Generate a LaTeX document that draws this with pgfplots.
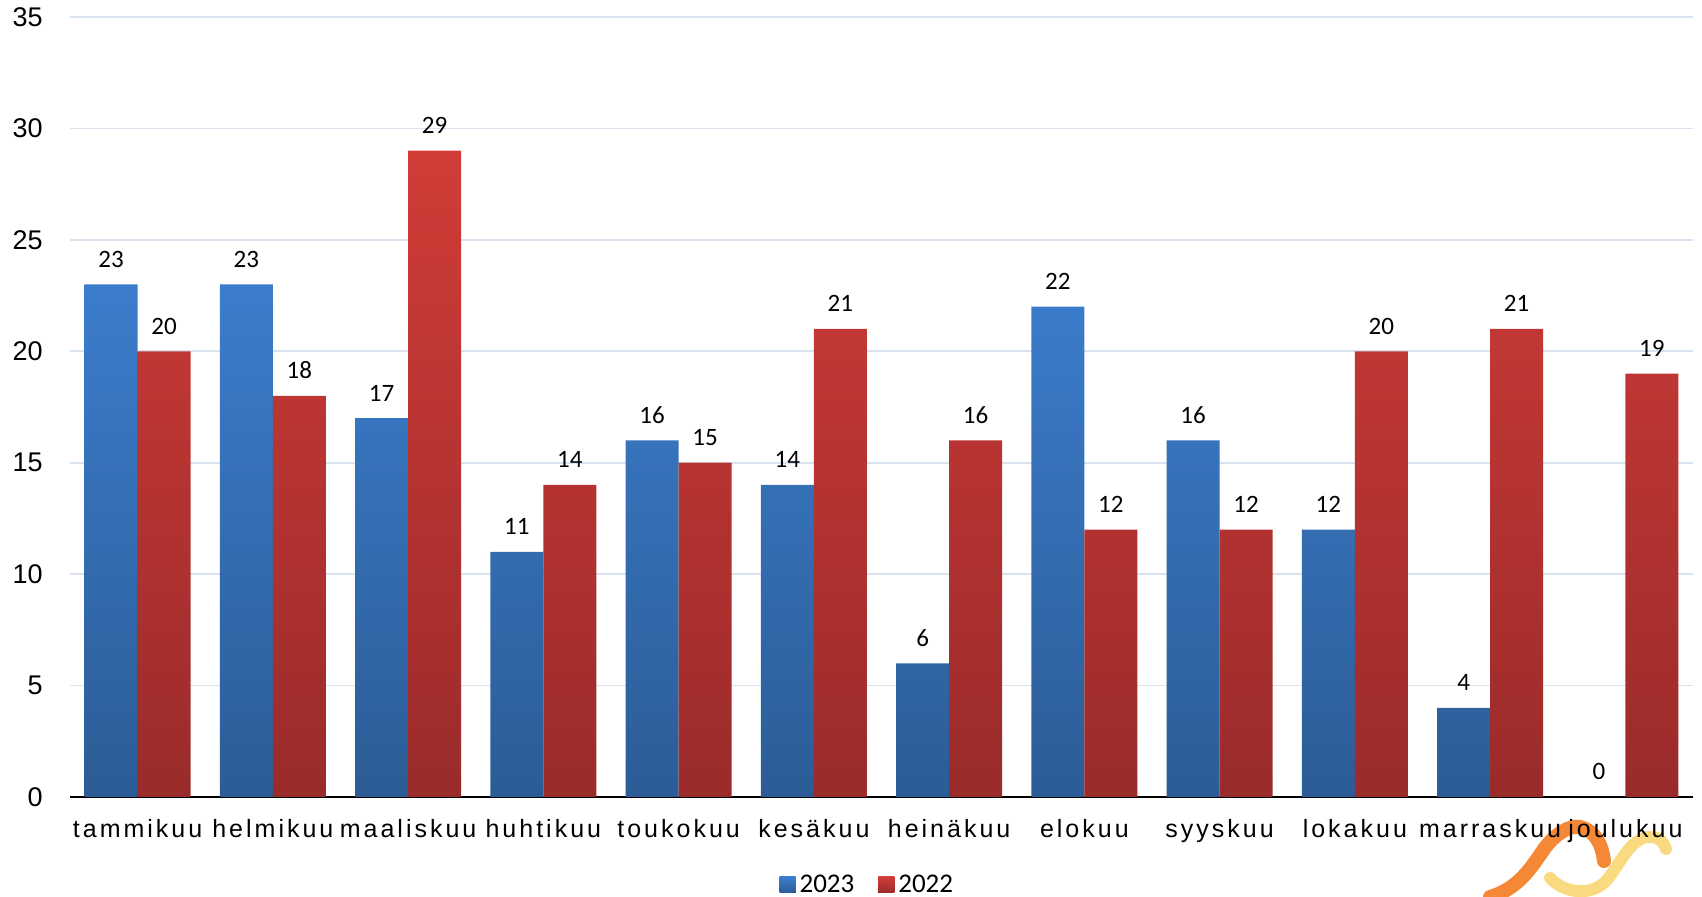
\documentclass[border=0pt]{standalone}
\usepackage{fontspec}
\setmainfont{Liberation Sans}
\newfontfamily\carl{Carlito}
\newfontfamily\xlab{Liberation Sans}[LetterSpace=12]
\usepackage{pgfplots}
\pgfplotsset{compat=1.18}
\definecolor{bluetop}{HTML}{3B7DCC}
\definecolor{bluebot}{HTML}{2C5C96}
\definecolor{redtop}{HTML}{D13C37}
\definecolor{redbot}{HTML}{9A2B2B}
\definecolor{gridc}{HTML}{D9E3F0}
\definecolor{logoor}{HTML}{F47B20}
\definecolor{logoye}{HTML}{F9D46A}
\begin{document}
\begin{tikzpicture}
\path[use as bounding box] (0,0) rectangle (851pt,448.5pt);
% decorative logo
\draw[logoye, opacity=0.85, line width=6pt, line cap=round]
  (775pt,9.5pt) .. controls (782pt,2pt) and (795pt,0pt) .. (803pt,8pt)
  .. controls (810pt,16pt) and (815pt,30pt) .. (825pt,30pt)
  .. controls (830pt,30pt) and (832pt,27pt) .. (833pt,24pt);
\draw[logoor, opacity=0.9, line width=7pt, line cap=round]
  (745pt,0pt) .. controls (758pt,4pt) and (764pt,12pt) .. (772pt,24pt)
  .. controls (778pt,32pt) and (785pt,36pt) .. (790pt,35pt)
  .. controls (798pt,33pt) and (801pt,26pt) .. (802pt,18pt);
\begin{axis}[
  at={(35pt,50pt)}, anchor=south west,
  scale only axis, width=811.5pt, height=390pt,
  ymin=0, ymax=35, ytick={0,5,...,35},
  xmin=-0.5, xmax=11.5, xtick={0,...,11},
  xticklabels={tammikuu,helmikuu,maaliskuu,huhtikuu,toukokuu,kesäkuu,heinäkuu,elokuu,syyskuu,lokakuu,marraskuu,joulukuu},
  axis x line*=bottom, axis y line*=left,
  x axis line style={-, black, line width=0.8pt},
  y axis line style={draw=none},
  major tick length=0pt, tick style={draw=none},
  ymajorgrids, grid style={color=gridc, line width=0.8pt},
  /pgf/number format/assume math mode=true,
  yticklabel style={anchor=east, inner sep=0pt, xshift=-13.5pt, font=\fontsize{13.5}{16}\selectfont},
  xticklabel style={anchor=base, inner sep=0pt, yshift=-20.5pt, font=\xlab\fontsize{12.5}{15}\selectfont},
  ybar=0pt, bar width=26.5pt,
  nodes near coords,
  every node near coord/.append style={font=\carl\fontsize{12.5}{15}\selectfont, anchor=base, inner sep=0pt, yshift=8.5pt, text=black},
  legend style={at={(0.4919,-0.1128)}, anchor=center, draw=none, fill=none, legend columns=2,
    font=\carl\fontsize{13.5}{16}\selectfont,
    /tikz/every even column/.append style={column sep=10pt}},
]
\addplot[draw=none, top color=bluetop, bottom color=bluebot,
  legend image code/.code={\fill[top color=bluetop, bottom color=bluebot] (0pt,-4pt) rectangle (8pt,4pt);}]
  coordinates {(0,23) (1,23) (2,17) (3,11) (4,16) (5,14) (6,6) (7,22) (8,16) (9,12) (10,4) (11,0)};
\addlegendentry{2023}
\addplot[draw=none, top color=redtop, bottom color=redbot,
  legend image code/.code={\fill[top color=redtop, bottom color=redbot] (0pt,-4pt) rectangle (8pt,4pt);}]
  coordinates {(0,20) (1,18) (2,29) (3,14) (4,15) (5,21) (6,16) (7,12) (8,12) (9,20) (10,21) (11,19)};
\addlegendentry{2022}
\end{axis}
\end{tikzpicture}
\end{document}
